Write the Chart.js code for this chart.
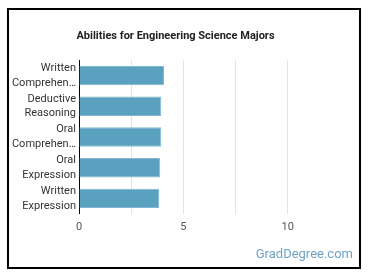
<!DOCTYPE html>
<html>
<head>
<meta charset="utf-8">
<script src="https://cdn.jsdelivr.net/npm/chart.js@4"></script>
<style>
    body { margin: 0; background: #fff; }
    #frame {
        position: absolute; left: 7px; top: 8px;
        width: 354px; height: 261px;
        border: 2px solid #000; box-sizing: border-box;
    }
    #myChart { display: block; }
    #mark {
        position: absolute; right: 6px; bottom: 6px;
        font: 13px Roboto, sans-serif; color: #6fa3c4;
    }
</style>
</head>
<body>
<div id="frame">
    <canvas id="myChart" width="350" height="257"></canvas>
    <div id="mark">GradDegree.com</div>
</div>
<script>
// datos del grafico
const categories = ['Written Comprehension', 'Deductive Reasoning', 'Oral Comprehension', 'Oral Expression', 'Written Expression'];
const scores = [4.07, 3.94, 3.94, 3.89, 3.84];
const tickValues = [0, 5, 10];

// partimos el nombre en lineas y cortamos las largas
const wrapLabel = (name) => {
    return name.split(' ').map(word => word.length > 10 ? word.slice(0, 9) + '\u2026' : word);
};

const ctx = document.querySelector('#myChart');
const myChart = new Chart(ctx, {
    type: 'bar',
    data: {
        labels: categories,
        datasets: [
            {
                data: scores,
                backgroundColor: '#5aa1bf',
                borderColor: '#80b9d1',
                borderWidth: 1,
                barPercentage: 0.63,
                categoryPercentage: 1,
            },
        ],
    },
    options: {
        indexAxis: 'y',
        responsive: false,
        animation: false,
        layout: {
            padding: { left: 2, right: 19, top: 0, bottom: 26 }
        },
        scales: {
            x: {
                min: 0,
                max: 12.5,
                border: { display: false },
                grid: {
                    drawTicks: false,
                    color: (c) => (c.tick && c.tick.value === 12.5) ? 'rgba(0,0,0,0)' : '#e3e3e3',
                },
                ticks: {
                    stepSize: 2.5,
                    padding: 7,
                    color: '#555',
                    font: { family: 'Roboto', size: 11 },
                    callback: (v) => tickValues.includes(v) ? v : '',
                }
            },
            y: {
                afterFit: (scale) => { scale.width = 68; },
                border: { display: true, color: '#000', width: 1 },
                grid: { display: false, drawTicks: false },
                ticks: {
                    autoSkip: false,
                    padding: 3,
                    color: '#333',
                    font: { family: 'Roboto', size: 11, lineHeight: 1.35 },
                    callback: function (v) { return wrapLabel(this.getLabelForValue(v)); },
                }
            }
        },
        plugins: {
            legend: { display: false },
            tooltip: { enabled: false },
            title: {
                display: true,
                text: 'Abilities for Engineering Science Majors',
                color: '#222',
                font: { family: 'Roboto', size: 11, weight: 'bold' },
                padding: { top: 20, bottom: 17 }
            }
        }
    }
});
</script>
</body>
</html>
